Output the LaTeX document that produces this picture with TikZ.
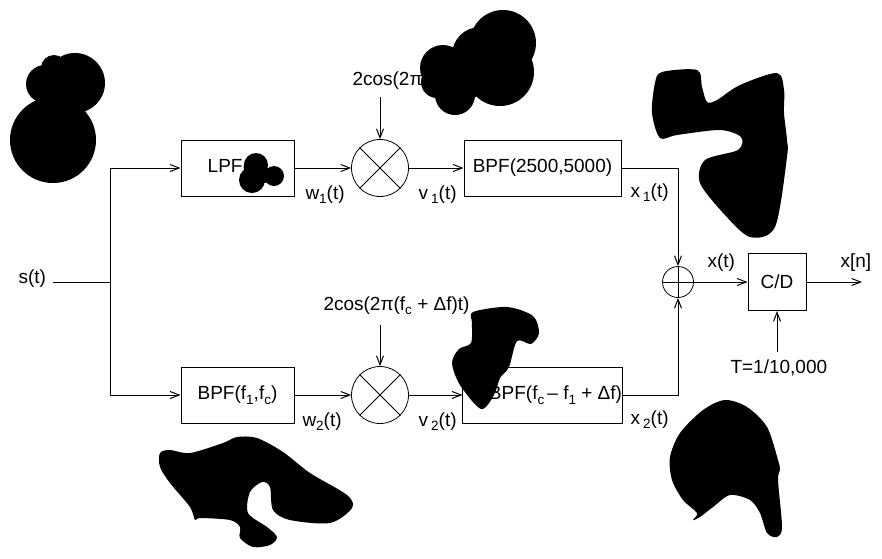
\documentclass[tikz,border=0pt]{standalone}
\usepackage{fontspec}
\setmainfont{Liberation Sans}
\usetikzlibrary{arrows.meta}
\newcommand\lo[1]{\raisebox{-4.5pt}{\fontsize{13.5}{13.5}\selectfont #1}}

\begin{document}
\begin{tikzpicture}[x=1pt,y=-1pt,line width=1pt,
  >={Straight Barb[length=9pt,width=7pt]},
  every node/.style={font=\fontsize{19}{22}\selectfont},
  filt/.style={draw,minimum height=56pt,inner sep=0pt},
  mixer/.style={draw,circle,line width=0.8pt,minimum size=57pt,inner sep=0pt},
  adder/.style={draw,circle,line width=0.8pt,minimum size=31pt,inner sep=0pt},
  lab/.style={anchor=base west,inner sep=0pt}]
\useasboundingbox (0,0) rectangle (882,558);
% blocks
\node[filt,minimum width=113pt] (lpf) at (237.5,168) {LPF(f\lo{c})};
\node[filt,minimum width=157pt] (bpfa) at (542.5,168) {BPF(2500,5000)};
\node[filt,minimum width=113pt] (bpfb) at (237.5,395) {BPF(f\lo{1},f\lo{c})};
\node[filt,minimum width=157pt] (bpfc) at (542.5,395) {\hspace*{26pt}BPF(f\lo{c}\,– f\lo{1} + Δf)};
\node[filt,minimum width=58pt,minimum height=57pt] (cd) at (777,282) {C/D};
\node[mixer] (ma) at (380,168) {};
\node[mixer] (mb) at (380,395) {};
\node[adder] (sum) at (678,282) {};
\draw[line width=0.8pt] (ma.45) -- (ma.225) (ma.135) -- (ma.315);
\draw[line width=0.8pt] (mb.45) -- (mb.225) (mb.135) -- (mb.315);
\draw[line width=0.8pt] (sum.north) -- (sum.south) (sum.west) -- (sum.east);
% labels
\node[lab] (st) at (18,283) {s(t)};
\node[lab] (wa) at (305,199) {w\lo{1}(t)};
\node[lab] (va) at (418,199) {v\,\lo{1}(t)};
\node[lab] (xa) at (630,197) {x\,\lo{1}(t)};
\node[lab] (wb) at (302,426) {w\lo{2}(t)};
\node[lab] (vb) at (418,426) {v\,\lo{2}(t)};
\node[lab] (xb) at (630,424) {x\,\lo{2}(t)};
\node[lab] (xt) at (707,267) {x(t)};
\node[lab] (xn) at (840,267) {x[n]};
\node[lab] (tl) at (730,373) {T=1/10,000};
\node[lab] (ca) at (352,85) {2cos(2πf\lo{c}t)};
\node[lab] (cb) at (323,310) {2cos(2π(f\lo{c} + Δf)t)};
\coordinate (split) at (110,282);
\coordinate (sin) at (53,282);
\coordinate (caa) at (380,97);
\coordinate (cbb) at (380,325);
\coordinate (tin) at (777,352);
\coordinate (out) at (862,282);
% connections
\draw (sin) -- (split);
\draw[->] (split) |- (lpf.west);
\draw[->] (split) |- (bpfb.west);
\draw[->] (lpf) -- (ma);
\draw[->] (bpfb) -- (mb);
\draw[->] (ma) -- (bpfa);
\draw[->] (mb) -- (bpfc);
\draw[->] (caa) -- (ma);
\draw[->] (cbb) -- (mb);
\draw[->] (bpfa.east) -| (sum.north);
\draw[->] (bpfc.east) -| (sum.south);
\draw[->] (sum) -- (cd);
\draw[->] (cd) -- (out);
\draw[->] (tin) -- (cd);
% blots
\fill (53,140) circle (43) (75,83) circle (30) (45,84) circle (19) (54,68) circle (13);
\fill (256,165) circle (12) (252,180) circle (13) (274,176) circle (10) (264,175) circle (8);
\fill (503,43) circle (33) (500,72) circle (34) (443,68) circle (23) (455,95) circle (20) (480,55) circle (28) (465,80) circle (20) (437,82) circle (16);
\fill plot[smooth cycle] coordinates {(662,72) (697,70) (702,87) (707,102) (717,100) (740,85) (777,73) (784,90) (784,113) (787,140) (787,157) (775,227) (750,237) (725,215) (700,183) (705,160) (738,150) (741,137) (720,130) (677,135) (660,138) (652,113) (655,83)};
\fill plot[smooth cycle] coordinates {(473,312) (507,307) (533,316) (539,333) (531,344) (517,341) (509,367) (500,378) (494,395) (481,409) (460,385) (452,363) (459,349) (471,343) (472,323)};
\fill plot[smooth cycle] coordinates {(160,453) (170,450) (190,453) (223,443) (237,437) (257,438) (283,452) (310,473) (347,495) (352,508) (330,523) (290,520) (273,510) (270,487) (262,482) (250,492) (248,513) (267,527) (277,537) (270,545) (253,547) (240,538) (240,527) (230,520) (200,518) (195,520) (190,507) (170,483) (160,467)};
\fill plot[smooth cycle] coordinates {(725,400) (747,407) (767,427) (778,460) (780,470) (778,480) (782,527) (777,537) (767,533) (760,513) (750,500) (730,495) (713,507) (700,517) (693,520) (697,513) (683,500) (672,480) (670,457) (680,433) (703,410)};
\end{tikzpicture}
\end{document}
